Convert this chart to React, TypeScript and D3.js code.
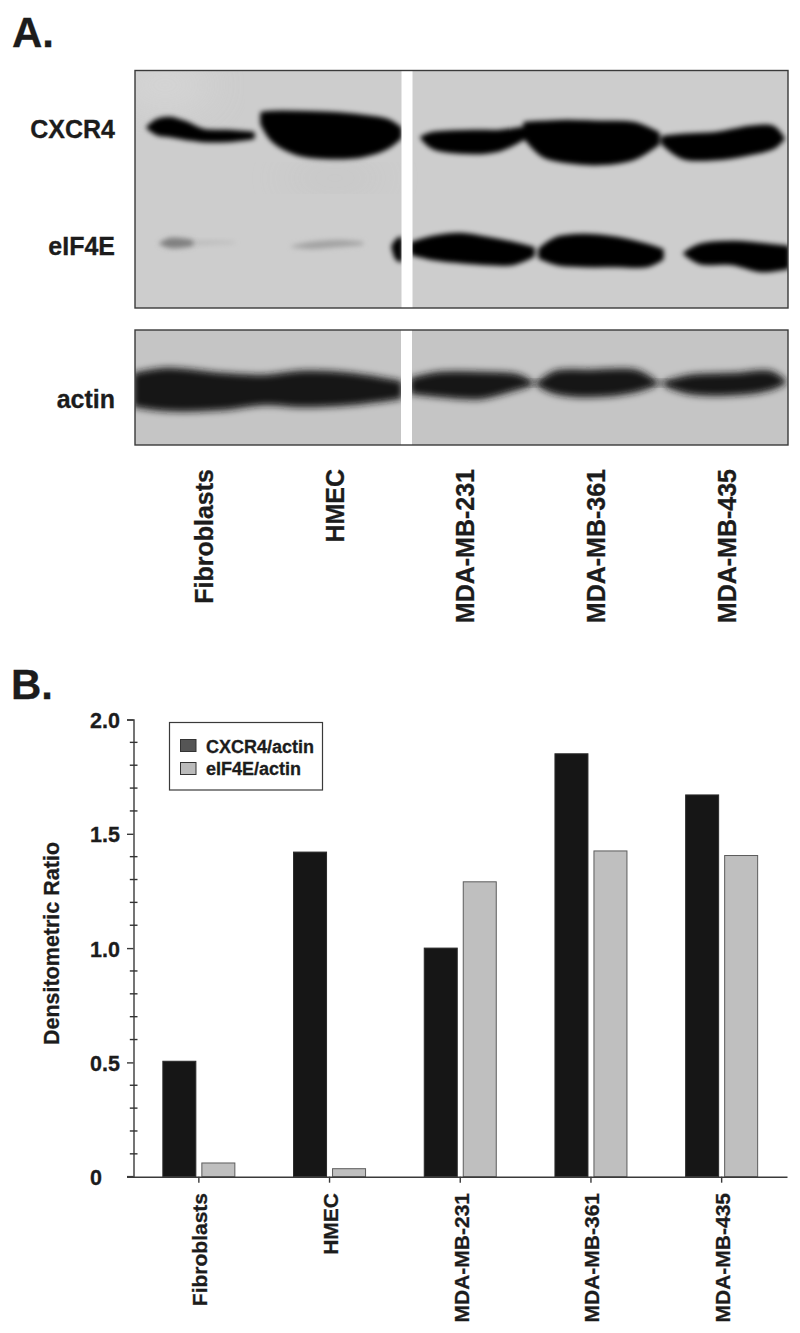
import React, { useRef, useEffect } from "react";
import * as d3 from "d3";

// densitometry values, panel B
const cellLines = ["Fibroblasts", "HMEC", "MDA-MB-231", "MDA-MB-361", "MDA-MB-435"];
const seriesNames = ["CXCR4/actin", "eIF4E/actin"];
const cxcr4Ratio = [0.505, 1.42, 1.0, 1.85, 1.67];
const eif4eRatio = [0.06, 0.035, 1.29, 1.425, 1.405];
const majorTicks = [0, 0.5, 1, 1.5, 2];

// band profiles: [position along gel, upper edge, lower edge]
type Profile = number[][];
const cxcr4Bands: Profile[] = [
    [[13, 57, 57], [22, 50, 63], [35, 48, 65], [52, 53, 68], [68, 60, 70], [92, 61, 70], [118, 63, 67]],
    [[127, 43, 53], [138, 42, 70], [162, 42, 83], [195, 43, 87], [228, 46, 85], [252, 50, 77], [265, 58, 67]],
    [[287, 67, 67], [298, 63, 77], [338, 61, 82], [365, 61, 79], [388, 58, 68]],
    [[390, 53, 67], [408, 52, 85], [432, 51, 91], [465, 52, 93], [498, 53, 88], [523, 63, 73]],
    [[528, 67, 73], [548, 65, 87], [582, 63, 88], [615, 57, 83], [638, 57, 77], [648, 68, 68]],
];
const eif4eBands: Profile[] = [
    [[258, 176, 176], [262, 170, 188], [266, 168, 190]],
    [[277, 173, 183], [298, 167, 188], [325, 164, 191], [352, 168, 193], [378, 173, 193], [398, 178, 185]],
    [[405, 179, 187], [422, 168, 193], [448, 165, 195], [482, 168, 195], [512, 175, 195], [527, 180, 188]],
    [[550, 183, 183], [565, 175, 192], [598, 172, 193], [625, 174, 200], [653, 177, 197]],
];
const eif4eFaintLane1: Profile[] = [
    [[24, 173, 173], [34, 168, 177], [46, 168, 177], [58, 170, 175]],
];
const eif4eFaintLane2: Profile[] = [
    [[156, 176, 176], [175, 172, 178], [205, 170, 176], [228, 172, 174]],
];
const eif4eTraceBands: Profile[] = [
    [[58, 170, 175], [80, 170, 174], [100, 171, 173]],
];
const actinBands: Profile[] = [
    [[0, 45, 75], [32, 40, 79], [86, 45, 78], [130, 47, 73], [166, 43, 75], [215, 45, 73], [265, 53, 67]],
    [[277, 50, 62], [305, 44, 65], [345, 44, 67], [381, 46, 58], [394, 52, 54]],
    [[405, 53, 55], [421, 43, 62], [456, 42, 65], [501, 42, 60], [519, 52, 54]],
    [[532, 53, 55], [555, 47, 62], [600, 45, 63], [635, 43, 58], [649, 52, 52]],
];
const actinBridges: Profile[] = [
    [[390, 51, 55], [410, 51, 55]],
    [[515, 51, 55], [537, 51, 55]],
];

const FONT = "'Liberation Sans', Arial, sans-serif";
const INK = "#1c1c1c";

function App() {
    const ref = useRef<SVGSVGElement | null>(null);

    useEffect(() => {
        const svg = d3.select(ref.current);
        svg.selectAll("*").remove();
        const defs = svg.append("defs");

        const addBlur = (id: string, sd: number) =>
            defs.append("filter").attr("id", id)
                .attr("x", "-30%").attr("y", "-60%").attr("width", "160%").attr("height", "220%")
                .append("feGaussianBlur").attr("stdDeviation", sd);
        addBlur("bandBlur", 2.8);
        addBlur("actinBlur", 3.6);
        addBlur("wideBlur", 22);
        addBlur("textSoft", 0.35);

        //////////////////// Panel A: the blots ////////////////////
        const gelLeft = 135, gelRight = 788, gelWidth = 653;
        const gelX = d3.scaleLinear().domain([0, gelWidth]).range([gelLeft, gelRight]);

        function drawBlot(id: string, top: number, bottom: number, bg: string, stripe: number[]) {
            defs.append("clipPath").attr("id", id)
                .append("rect").attr("x", gelLeft).attr("y", top)
                .attr("width", gelWidth).attr("height", bottom - top);
            const g = svg.append("g");
            g.append("rect").attr("x", gelLeft).attr("y", top)
                .attr("width", gelWidth).attr("height", bottom - top).attr("fill", bg);
            const inner = g.append("g").attr("clip-path", `url(#${id})`);
            const gelY = d3.scaleLinear().domain([0, bottom - top]).range([top, bottom]);
            const area = d3.area<number[]>()
                .x(d => gelX(d[0]))
                .y0(d => gelY(d[1]))
                .y1(d => gelY(d[2]))
                .curve(d3.curveCatmullRom);
            const bands = (data: Profile[], fill: string, filter: string, spread = 0) => {
                inner.append("g").attr("filter", `url(#${filter})`)
                    .selectAll("path").data(data).join("path")
                    .attr("d", d => area(d)).attr("fill", fill)
                    .attr("stroke", spread ? fill : "none").attr("stroke-width", spread)
                    .attr("stroke-linejoin", "round");
            };
            return { g, inner, gelY, bands, finish: () => {
                g.append("rect").attr("x", stripe[0]).attr("y", top)
                    .attr("width", stripe[1] - stripe[0]).attr("height", bottom - top).attr("fill", "#fff");
                g.append("rect").attr("x", gelLeft).attr("y", top)
                    .attr("width", gelWidth).attr("height", bottom - top)
                    .attr("fill", "none").attr("stroke", "#3a3a3a").attr("stroke-width", 1.4);
            } };
        }

        const upper = drawBlot("upperClip", 70.5, 308, "#cdcdcd", [401.5, 412.5]);
        // lighter corner and the smear under the HMEC lane
        upper.inner.append("ellipse").attr("cx", 165).attr("cy", 85).attr("rx", 50).attr("ry", 22)
            .attr("fill", "#dcdcdc").attr("opacity", 0.7).attr("filter", "url(#wideBlur)");
        upper.inner.append("ellipse").attr("cx", 335).attr("cy", 178).attr("rx", 60).attr("ry", 7)
            .attr("fill", "#bdbdbd").attr("opacity", 0.8).attr("filter", "url(#wideBlur)");
        upper.bands(eif4eTraceBands, "#bcbcbc", "bandBlur");
        upper.bands(eif4eFaintLane1, "#808080", "bandBlur", 1);
        upper.bands(eif4eFaintLane2, "#a2a2a2", "bandBlur", 1);
        upper.bands(cxcr4Bands, "#000", "bandBlur", 3.5);
        upper.bands(eif4eBands, "#000", "bandBlur", 3.5);
        upper.finish();

        const lower = drawBlot("lowerClip", 330, 445, "#c5c5c5", [401, 412]);
        lower.bands(actinBridges, "#555", "actinBlur");
        lower.bands(actinBands, "#161616", "actinBlur", 4.5);
        lower.finish();

        //////////////////// Panel B: bar chart ////////////////////
        const axisLeft = 133.5, axisRight = 787;
        const x = d3.scaleBand<string>().domain(cellLines).range([axisLeft, axisRight]);
        const xInner = d3.scaleBand<string>().domain(seriesNames).range([-36, 36]).paddingInner(0.154);
        const y = d3.scaleLinear().domain([0, 2]).range([1176.7, 719.5]);

        const barData = [
            { name: seriesNames[0], values: cxcr4Ratio, fill: "#161616", stroke: "#2a2a2a" },
            { name: seriesNames[1], values: eif4eRatio, fill: "#bfbfbf", stroke: "#5c5c5c" },
        ];
        barData.forEach(s => {
            svg.append("g").selectAll("rect").data(s.values).join("rect")
                .attr("x", (d, i) => (x(cellLines[i]) as number) + x.bandwidth() / 2 + (xInner(s.name) as number))
                .attr("y", d => y(d))
                .attr("width", xInner.bandwidth())
                .attr("height", d => y(0) - y(d))
                .attr("fill", s.fill)
                .attr("stroke", s.stroke)
                .attr("stroke-width", 1);
        });

        const yAxis = svg.append("g").attr("transform", `translate(${axisLeft},0)`)
            .call(d3.axisLeft(y).tickValues(majorTicks).tickSize(6.5)
                .tickFormat(d => (+d === 0 ? "0" : d3.format(".1f")(+d))));
        yAxis.selectAll(".domain").attr("stroke", "#3a3a3a").attr("stroke-width", 1.4);
        yAxis.selectAll(".tick line").attr("stroke", "#3a3a3a").attr("stroke-width", 1.4);
        yAxis.selectAll(".tick text")
            .attr("x", 90 - axisLeft).attr("dy", "0.37em").attr("text-anchor", "start")
            .attr("font-family", FONT).attr("font-weight", "bold").attr("font-size", 21.5).attr("fill", INK)
            .attr("stroke", INK).attr("stroke-width", 0.3);

        // minor ticks cross the axis line
        svg.append("g").selectAll("line")
            .data(y.ticks(20).filter(t => Math.round(t * 10) % 5 !== 0))
            .join("line")
            .attr("x1", axisLeft - 3.7).attr("x2", axisLeft + 4)
            .attr("y1", d => y(d)).attr("y2", d => y(d))
            .attr("stroke", "#333").attr("stroke-width", 1.4);

        const xAxis = svg.append("g").attr("transform", `translate(0,${y(0)})`)
            .call(d3.axisBottom(x).tickSize(6).tickFormat(() => "").tickSizeOuter(0));
        xAxis.selectAll(".domain").attr("stroke", "#3a3a3a").attr("stroke-width", 1.6);
        xAxis.selectAll(".tick line").attr("stroke", "#3a3a3a").attr("stroke-width", 1.4);
        svg.append("line").attr("x1", axisLeft - 6.5).attr("x2", axisLeft)
            .attr("y1", y(0)).attr("y2", y(0)).attr("stroke", "#3a3a3a").attr("stroke-width", 1.6);

        // legend
        svg.append("rect").attr("x", 169.5).attr("y", 722.5).attr("width", 153).attr("height", 67.5)
            .attr("fill", "#fff").attr("stroke", "#3a3a3a").attr("stroke-width", 1.2);
        const legendColors = ["#555555", "#bbbbbb"];
        seriesNames.forEach((name, i) => {
            svg.append("rect").attr("x", 180.5).attr("y", 739.5 + i * 23).attr("width", 15.5).attr("height", 12)
                .attr("fill", legendColors[i]).attr("stroke", "#333").attr("stroke-width", 1);
        });

        // all the labels go last so nothing covers them
        const labels = svg.append("g");
        const text = (s: string, tx: number, ty: number, size: number, anchor = "start", rotate = false) =>
            labels.append("text").text(s)
                .attr("transform", rotate ? `translate(${tx},${ty}) rotate(-90)` : `translate(${tx},${ty})`)
                .attr("text-anchor", anchor).attr("font-family", FONT).attr("font-weight", "bold")
                .attr("font-size", size).attr("fill", INK)
                .attr("stroke", INK).attr("stroke-width", 0.3);

        text("A.", 12, 47, 42);
        text("B.", 11, 699, 42);
        text("CXCR4", 115, 138, 25, "end");
        text("eIF4E", 115, 255, 25, "end");
        text("actin", 115, 408, 25, "end");
        cellLines.forEach(c => {
            const cx = (x(c) as number) + x.bandwidth() / 2;
            text(c, cx + 14, 469, 25, "end", true);
            text(c, cx + 8.5, 1193, 21, "end", true);
        });
        text("Densitometric Ratio", 59, y(1.02), 21.5, "middle", true);
        seriesNames.forEach((name, i) => text(name, 206, 752.5 + i * 22.7, 18));
    }, []);

    return (
        <svg ref={ref} width={800} height={1333}
            style={{ position: "absolute", left: 0, top: 0, background: "#fff" }} />
    );
}

export default App;
